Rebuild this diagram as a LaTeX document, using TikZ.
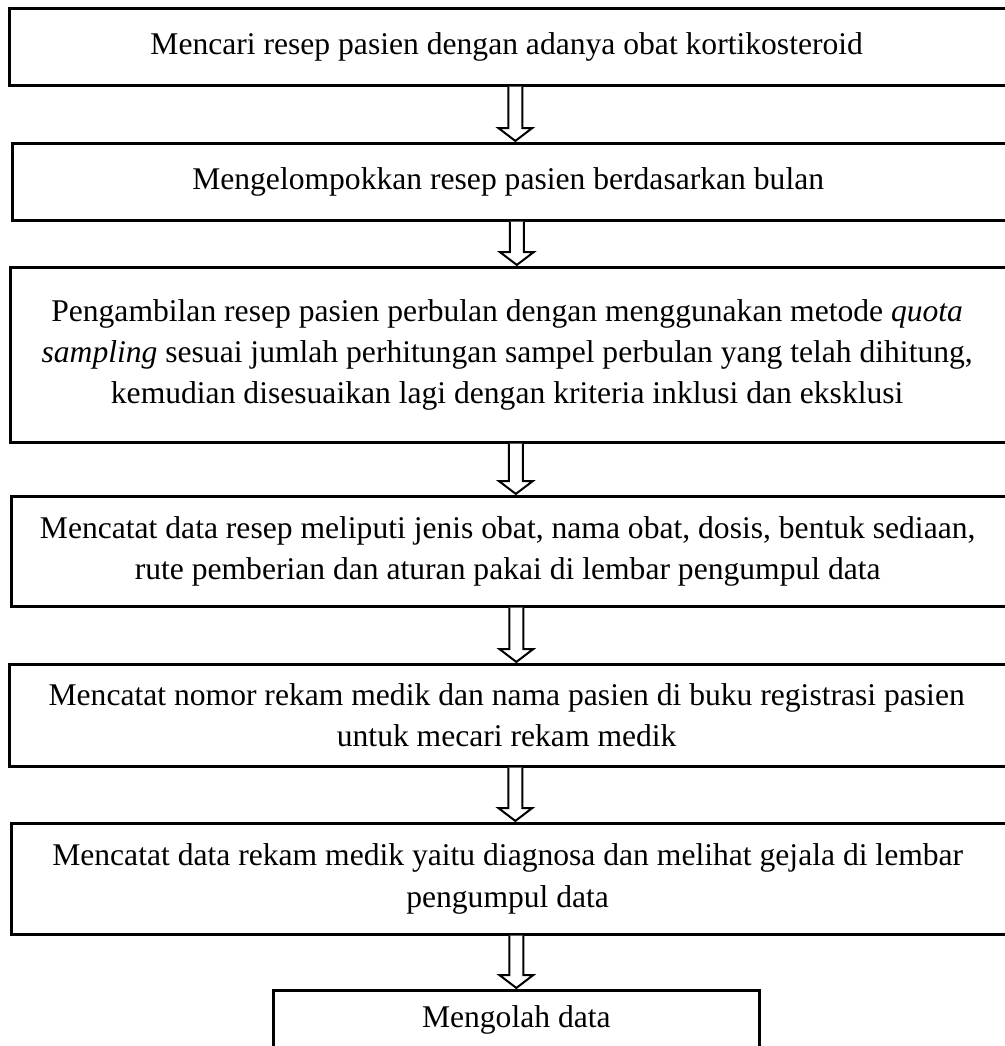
\documentclass[tikz,border=0pt]{standalone}
\usepackage{fontspec}
\setmainfont{Liberation Serif}
\usetikzlibrary{calc}
\tikzset{
  flowbox/.style={draw=black, line width=2pt, rectangle, anchor=north west, inner sep=0pt},
  flowtext/.style={align=center, inner sep=0pt, xshift=-6.5pt, font=\fontsize{23.7}{31}\selectfont},
  flowarrow/.style={draw=black, line width=1.5pt, fill=white, line join=miter}
}
\newcommand\flowstep[2]{%
  \draw[flowarrow] let \p1=(#1.south), \p2=(#2.north) in
    (\x1-5.25pt,\y1) -- (\x1-5.25pt,\y2+10.5pt) -- (\x1-12.75pt,\y2+10.5pt) -- (\x1,\y2+0.8pt)
    -- (\x1+12.75pt,\y2+10.5pt) -- (\x1+5.25pt,\y2+10.5pt) -- (\x1+5.25pt,\y1);%
}
\begin{document}
\begin{tikzpicture}[x=0.75pt,y=-0.75pt]
\useasboundingbox (0,0) rectangle (1004,1046);
\node[flowbox, minimum width=759pt, minimum height=57.75pt] (b1) at (8,7) {};
\node[flowtext] (t1) at (b1.center)
  {Mencari resep pasien dengan adanya obat kortikosteroid};
\node[flowbox, minimum width=756.75pt, minimum height=57.75pt] (b2) at (11,142) {};
\node[flowtext] (t2) at (b2.center)
  {Mengelompokkan resep pasien berdasarkan bulan};
\node[flowbox, minimum width=758.25pt, minimum height=131.25pt] (b3) at (9,266) {};
\node[flowtext] (t3) at (b3.center)
  {Pengambilan resep pasien perbulan dengan menggunakan metode \textit{quota}\\
   \textit{sampling} sesuai jumlah perhitungan sampel perbulan yang telah dihitung,\\
   kemudian disesuaikan lagi dengan kriteria inklusi dan eksklusi};
\node[flowbox, minimum width=757.5pt, minimum height=82.5pt] (b4) at (10,495) {};
\node[flowtext] (t4) at (b4.center)
  {Mencatat data resep meliputi jenis obat, nama obat, dosis, bentuk sediaan,\\
   rute pemberian dan aturan pakai di lembar pengumpul data};
\node[flowbox, minimum width=759pt, minimum height=76.5pt] (b5) at (8,663) {};
\node[flowtext] (t5) at (b5.center)
  {Mencatat nomor rekam medik dan nama pasien di buku registrasi pasien\\
   untuk mecari rekam medik};
\node[flowbox, minimum width=757.5pt, minimum height=83.25pt] (b6) at (10,822) {};
\node[flowtext] (t6) at (b6.center)
  {Mencatat data rekam medik yaitu diagnosa dan melihat gejala di lembar\\
   pengumpul data};
\node[flowbox, minimum width=364.5pt, minimum height=46.5pt] (b7) at (272,989) {};
\node[flowtext, xshift=6.5pt, yshift=1pt] (t7) at (b7.center) {Mengolah data};
\flowstep{b1}{b2}
\flowstep{b2}{b3}
\flowstep{b3}{b4}
\flowstep{b4}{b5}
\flowstep{b5}{b6}
\flowstep{b6}{b7}
\end{tikzpicture}
\end{document}
